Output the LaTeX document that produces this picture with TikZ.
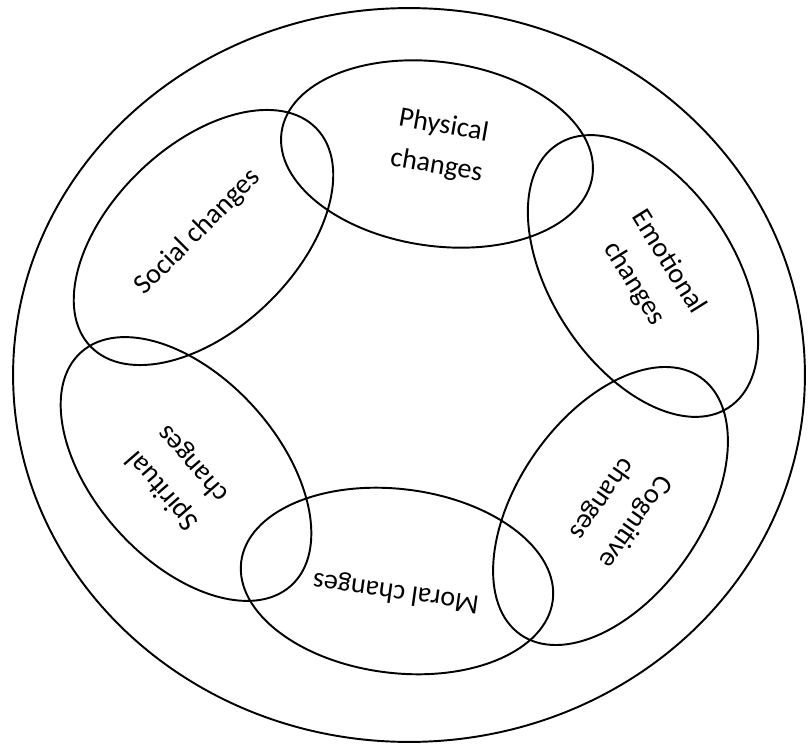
\documentclass[tikz,border=0pt]{standalone}
\usepackage{fontspec}
\setmainfont{Carlito}
\usetikzlibrary{shapes.geometric}

\begin{document}
\begin{tikzpicture}[
    x=0.02cm, y=0.02cm,
    rim/.style={ellipse, draw, line width=1.1pt, inner sep=0pt, minimum width=15.84cm, minimum height=14.68cm},
    bubble/.style={ellipse, draw, line width=1.1pt, inner sep=0pt, minimum width=6.28cm, minimum height=3.68cm},
    txt/.style={align=center, inner sep=0pt, font=\fontsize{16}{23}\selectfont},
]
\useasboundingbox (0,0) rectangle (808,745);

\node[rim] (outer) at (409,370) {};

% the six kinds of change
\node[bubble, rotate=-8] (phys) at (437,591) {};
\node[bubble, rotate=44] (soc) at (203.5,507.5) {};
\node[bubble, rotate=-57] (emo) at (643,469) {};
\node[bubble, rotate=55] (cog) at (610.5,239) {};
\node[bubble, rotate=-7] (mor) at (397,164) {};
\node[bubble, rotate=-48] (spir) at (186,276) {};

\node[txt, rotate=-10] (physT) at (440,599) {Physical\\changes};
\node[txt, rotate=45] (socT) at (198,513) {Social changes};
\node[txt, rotate=-58] (emoT) at (651,472) {Emotional\\changes};
\node[txt, rotate=-125] (cogT) at (618,235) {Cognitive\\changes};
\node[txt, rotate=172] (morT) at (396,153) {Moral changes};
\node[txt, rotate=131] (spirT) at (178,268) {Spiritual\\changes};
\end{tikzpicture}
\end{document}
